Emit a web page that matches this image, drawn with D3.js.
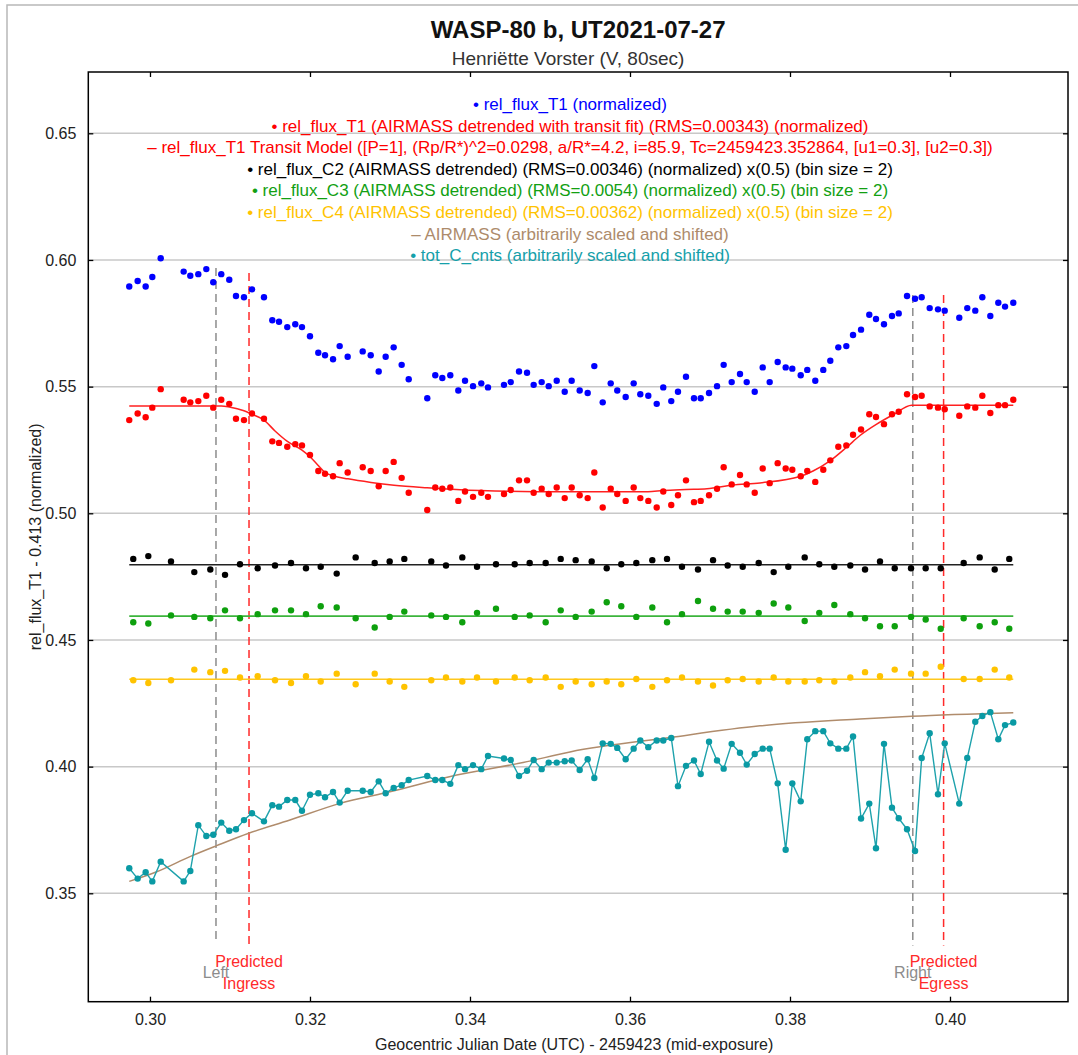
<!DOCTYPE html>
<html>
<head>
<meta charset="utf-8">
<script src="https://cdn.jsdelivr.net/npm/d3@7"></script>
<style>
  body { margin: 0; background: #fff; }
  svg { font-family: "Liberation Sans", Arial, sans-serif; }
</style>
</head>
<body>
<svg id="chart" width="1078" height="1055"></svg>
<script>
// ---- data ----
var timeX = [
  0.29741, 0.29846, 0.29946, 0.30029, 0.30134, 0.30421, 0.30504, 0.30604, 0.30704, 0.30791,
  0.30891, 0.30991, 0.31075, 0.31175, 0.31275, 0.31425, 0.31529, 0.31613, 0.31716, 0.31816,
  0.31900, 0.32000, 0.32104, 0.32188, 0.32288, 0.32371, 0.32471, 0.32659, 0.32759, 0.32859,
  0.32946, 0.33046, 0.33146, 0.33234, 0.33466, 0.33566, 0.33654, 0.33754, 0.33854, 0.33938,
  0.34038, 0.34141, 0.34225, 0.34425, 0.34509, 0.34613, 0.34713, 0.34796, 0.34896, 0.34984,
  0.35084, 0.35184, 0.35271, 0.35371, 0.35471, 0.35554, 0.35659, 0.35759, 0.35841, 0.35946,
  0.36046, 0.36129, 0.36229, 0.36334, 0.36416, 0.36516, 0.36600, 0.36700, 0.36800, 0.36884,
  0.36988, 0.37088, 0.37171, 0.37271, 0.37375, 0.37459, 0.37559, 0.37659, 0.37746, 0.37846,
  0.37946, 0.38029, 0.38134, 0.38216, 0.38316, 0.38416, 0.38504, 0.38604, 0.38704, 0.38788,
  0.38888, 0.38991, 0.39075, 0.39175, 0.39275, 0.39359, 0.39463, 0.39563, 0.39646, 0.39746,
  0.39850, 0.39934, 0.40116, 0.40216, 0.40316, 0.40404, 0.40504, 0.40604, 0.40688, 0.40791
];
var relFluxT1 = [
  0.5895, 0.5917, 0.5895, 0.5933, 0.6007, 0.5954, 0.5938, 0.5944, 0.5964, 0.5912,
  0.5944, 0.5922, 0.5858, 0.5853, 0.5884, 0.5853, 0.5762, 0.5756, 0.5735, 0.5746,
  0.5735, 0.5699, 0.5634, 0.5624, 0.5608, 0.5660, 0.5618, 0.5639, 0.5624, 0.5560,
  0.5618, 0.5655, 0.5586, 0.5529, 0.5454, 0.5545, 0.5534, 0.5545, 0.5485, 0.5523,
  0.5502, 0.5513, 0.5497, 0.5507, 0.5518, 0.5560, 0.5555, 0.5507, 0.5518, 0.5502,
  0.5523, 0.5480, 0.5523, 0.5485, 0.5475, 0.5581, 0.5438, 0.5513, 0.5485, 0.5459,
  0.5513, 0.5470, 0.5464, 0.5432, 0.5497, 0.5443, 0.5480, 0.5539, 0.5454, 0.5454,
  0.5475, 0.5502, 0.5586, 0.5518, 0.5550, 0.5518, 0.5480, 0.5576, 0.5518, 0.5597,
  0.5576, 0.5571, 0.5545, 0.5566, 0.5523, 0.5566, 0.5602, 0.5655, 0.5660, 0.5704,
  0.5725, 0.5784, 0.5767, 0.5746, 0.5779, 0.5789, 0.5858, 0.5847, 0.5853, 0.5810,
  0.5805, 0.5800, 0.5772, 0.5810, 0.5800, 0.5853, 0.5779, 0.5831, 0.5816, 0.5831
];
var relFluxT1Detr = [
  0.5368, 0.5394, 0.5379, 0.5417, 0.5490, 0.5448, 0.5438, 0.5443, 0.5464, 0.5417,
  0.5448, 0.5432, 0.5373, 0.5368, 0.5394, 0.5373, 0.5284, 0.5278, 0.5263, 0.5273,
  0.5268, 0.5230, 0.5167, 0.5156, 0.5146, 0.5198, 0.5161, 0.5182, 0.5167, 0.5107,
  0.5167, 0.5203, 0.5140, 0.5081, 0.5013, 0.5102, 0.5097, 0.5102, 0.5049, 0.5086,
  0.5065, 0.5081, 0.5065, 0.5076, 0.5092, 0.5130, 0.5130, 0.5081, 0.5097, 0.5076,
  0.5102, 0.5060, 0.5102, 0.5071, 0.5060, 0.5161, 0.5023, 0.5097, 0.5076, 0.5049,
  0.5102, 0.5060, 0.5049, 0.5023, 0.5086, 0.5033, 0.5071, 0.5130, 0.5044, 0.5049,
  0.5071, 0.5097, 0.5182, 0.5114, 0.5151, 0.5114, 0.5081, 0.5177, 0.5119, 0.5198,
  0.5177, 0.5172, 0.5146, 0.5167, 0.5124, 0.5172, 0.5209, 0.5263, 0.5268, 0.5310,
  0.5331, 0.5391, 0.5380, 0.5352, 0.5391, 0.5401, 0.5470, 0.5459, 0.5464, 0.5422,
  0.5417, 0.5411, 0.5385, 0.5422, 0.5417, 0.5464, 0.5396, 0.5427, 0.5427, 0.5448
];
var totCcnts = [
  0.3599, 0.3558, 0.3583, 0.3547, 0.3625, 0.3547, 0.3588, 0.3769, 0.3726, 0.3731,
  0.3779, 0.3747, 0.3753, 0.3789, 0.3816, 0.3784, 0.3848, 0.3842, 0.3868, 0.3868,
  0.3826, 0.3889, 0.3895, 0.3879, 0.3900, 0.3858, 0.3905, 0.3905, 0.3900, 0.3942,
  0.3895, 0.3916, 0.3927, 0.3947, 0.3963, 0.3947, 0.3947, 0.3932, 0.4006, 0.3990,
  0.4006, 0.3990, 0.4042, 0.4032, 0.4026, 0.3963, 0.3984, 0.4026, 0.3990, 0.4016,
  0.4016, 0.4021, 0.4024, 0.3987, 0.4029, 0.3955, 0.4092, 0.4090, 0.4074, 0.4029,
  0.4071, 0.4103, 0.4077, 0.4103, 0.4103, 0.4113, 0.3923, 0.4003, 0.4024, 0.3971,
  0.4098, 0.4024, 0.3992, 0.4090, 0.4055, 0.4008, 0.4050, 0.4071, 0.4071, 0.3934,
  0.3672, 0.3934, 0.3863, 0.4108, 0.4140, 0.4140, 0.4092, 0.4071, 0.4071, 0.4119,
  0.3795, 0.3854, 0.3678, 0.4090, 0.3838, 0.3796, 0.3753, 0.3667, 0.4034, 0.4132,
  0.3891, 0.4092, 0.3854, 0.4034, 0.4177, 0.4200, 0.4215, 0.4108, 0.4164, 0.4174
];

var modelX = [0.29741, 0.30891, 0.30991, 0.31175, 0.31275, 0.31425, 0.31563, 0.31713, 0.31900, 0.32000,
  0.32100, 0.32188, 0.32288, 0.32475, 0.32763, 0.33050, 0.33463, 0.34125, 0.35188, 0.36225,
  0.36413, 0.36700, 0.36963, 0.37275, 0.37625, 0.38125, 0.38288, 0.38500, 0.38709, 0.38875,
  0.39084, 0.39288, 0.39521, 0.40791];
var modelY = [0.5424, 0.5424, 0.5420, 0.5405, 0.5391, 0.5368, 0.5325, 0.5285, 0.5249, 0.5223,
  0.5190, 0.5161, 0.5148, 0.5136, 0.5122, 0.5111, 0.5101, 0.5090, 0.5085, 0.5085,
  0.5090, 0.5094, 0.5097, 0.5111, 0.5120, 0.5145, 0.5167, 0.5207, 0.5261, 0.5307,
  0.5352, 0.5389, 0.5427, 0.5427];

// binned comparison stars (bin size = 2)
var binX = [
  0.29791, 0.29979, 0.30263, 0.30554, 0.30754, 0.30938, 0.31125, 0.31346, 0.31563, 0.31763,
  0.31950, 0.32134, 0.32334, 0.32571, 0.32809, 0.32996, 0.33179, 0.33516, 0.33700, 0.33904,
  0.34088, 0.34325, 0.34559, 0.34746, 0.34946, 0.35134, 0.35321, 0.35521, 0.35709, 0.35891,
  0.36079, 0.36279, 0.36463, 0.36650, 0.36850, 0.37038, 0.37221, 0.37409, 0.37609, 0.37796,
  0.37979, 0.38184, 0.38366, 0.38554, 0.38754, 0.38938, 0.39125, 0.39309, 0.39513, 0.39696,
  0.39884, 0.40171, 0.40371, 0.40559, 0.40741
];
var relFluxC2 = [
  0.4820, 0.4831, 0.4810, 0.4768, 0.4778, 0.4757, 0.4799, 0.4783, 0.4794, 0.4804,
  0.4783, 0.4789, 0.4762, 0.4826, 0.4804, 0.4810, 0.4820, 0.4810, 0.4794, 0.4826,
  0.4789, 0.4799, 0.4799, 0.4804, 0.4804, 0.4820, 0.4815, 0.4810, 0.4783, 0.4799,
  0.4804, 0.4815, 0.4820, 0.4789, 0.4778, 0.4815, 0.4794, 0.4789, 0.4804, 0.4768,
  0.4789, 0.4826, 0.4799, 0.4789, 0.4794, 0.4778, 0.4810, 0.4783, 0.4783, 0.4783,
  0.4783, 0.4804, 0.4826, 0.4778, 0.4820
];
var relFluxC3 = [
  0.4570, 0.4565, 0.4597, 0.4591, 0.4586, 0.4617, 0.4586, 0.4602, 0.4617, 0.4617,
  0.4602, 0.4633, 0.4628, 0.4586, 0.4549, 0.4591, 0.4612, 0.4597, 0.4591, 0.4570,
  0.4607, 0.4623, 0.4591, 0.4597, 0.4570, 0.4617, 0.4591, 0.4612, 0.4649, 0.4633,
  0.4591, 0.4628, 0.4570, 0.4602, 0.4654, 0.4623, 0.4612, 0.4612, 0.4607, 0.4644,
  0.4628, 0.4575, 0.4607, 0.4638, 0.4602, 0.4586, 0.4554, 0.4554, 0.4591, 0.4581,
  0.4544, 0.4586, 0.4554, 0.4570, 0.4544
];
var relFluxC4 = [
  0.4341, 0.4330, 0.4341, 0.4383, 0.4373, 0.4378, 0.4352, 0.4357, 0.4341, 0.4330,
  0.4357, 0.4336, 0.4367, 0.4325, 0.4367, 0.4336, 0.4315, 0.4341, 0.4352, 0.4336,
  0.4352, 0.4336, 0.4352, 0.4341, 0.4352, 0.4315, 0.4336, 0.4325, 0.4336, 0.4325,
  0.4346, 0.4315, 0.4341, 0.4352, 0.4336, 0.4320, 0.4341, 0.4346, 0.4336, 0.4352,
  0.4336, 0.4336, 0.4341, 0.4336, 0.4352, 0.4373, 0.4357, 0.4383, 0.4367, 0.4367,
  0.4394, 0.4346, 0.4346, 0.4383, 0.4352
];
var compLevels = [0.4797, 0.4594, 0.4345];   // C2, C3, C4 detrended fit lines

var airmassX = [0.29741, 0.30084, 0.30500, 0.30834, 0.31234, 0.31750, 0.32375, 0.33000,
  0.33834, 0.34663, 0.35250, 0.36500, 0.37625, 0.38875, 0.39521, 0.40791];
var airmassY = [0.3547, 0.3585, 0.3645, 0.3688, 0.3737, 0.3789, 0.3855, 0.3901,
  0.3967, 0.4016, 0.4058, 0.4115, 0.4161, 0.4188, 0.4199, 0.4213];

var xTicks = [0.30, 0.32, 0.34, 0.36, 0.38, 0.40];
var yTicks = [0.35, 0.40, 0.45, 0.50, 0.55, 0.60, 0.65];

// ingress / egress markers
var markerLines = [
  {x: 0.30825, y0: 0.5968, y1: 0.3306, label: ["Left"], color: "#8c8c8c"},
  {x: 0.31238, y0: 0.5949, y1: 0.3282, label: ["Predicted", "Ingress"], color: "#ff2a2a"},
  {x: 0.39535, y0: 0.5862, y1: 0.3294, label: ["Right"], color: "#8c8c8c"},
  {x: 0.39920, y0: 0.5862, y1: 0.3294, label: ["Predicted", "Egress"], color: "#ff2a2a"}
];

var legendItems = [
  {sym: "•", text: "rel_flux_T1 (normalized)", color: "#0000ff"},
  {sym: "•", text: "rel_flux_T1 (AIRMASS detrended with transit fit) (RMS=0.00343) (normalized)", color: "#ff0000"},
  {sym: "–", text: "rel_flux_T1 Transit Model ([P=1], (Rp/R*)^2=0.0298, a/R*=4.2, i=85.9, Tc=2459423.352864, [u1=0.3], [u2=0.3])", color: "#ff0000"},
  {sym: "•", text: "rel_flux_C2 (AIRMASS detrended) (RMS=0.00346) (normalized) x(0.5) (bin size = 2)", color: "#000000"},
  {sym: "•", text: "rel_flux_C3 (AIRMASS detrended) (RMS=0.0054) (normalized) x(0.5) (bin size = 2)", color: "#12a012"},
  {sym: "•", text: "rel_flux_C4 (AIRMASS detrended) (RMS=0.00362) (normalized) x(0.5) (bin size = 2)", color: "#ffc300"},
  {sym: "–", text: "AIRMASS (arbitrarily scaled and shifted)", color: "#ad8b6b"},
  {sym: "•", text: "tot_C_cnts (arbitrarily scaled and shifted)", color: "#15a0aa"}
];

// ---- drawing ----
var svg = d3.select("#chart");
var plotL = 88.3, plotR = 1068, plotT = 72, plotB = 1001.7;

var x = d3.scaleLinear().domain([0.29229, 0.41475]).range([plotL, plotR]);
var y = d3.scaleLinear().domain([0.30721, 0.6742]).range([plotB, plotT]);

// window edge
svg.append("path").attr("d", "M7,1055 V5 H1078").attr("fill", "none").attr("stroke", "#b8b8b8").attr("stroke-width", 1.5);

// grid
svg.append("g").selectAll("line").data(yTicks).enter().append("line")
  .attr("x1", plotL).attr("x2", plotR)
  .attr("y1", function(d){ return y(d); }).attr("y2", function(d){ return y(d); })
  .attr("stroke", "#c8c8c8").attr("stroke-width", 1.5);

function pts(xs, ys) {
  return xs.map(function(d, i){ return [d, ys[i]]; });
}
var line = d3.line().x(function(d){ return x(d[0]); }).y(function(d){ return y(d[1]); });
var smooth = d3.line().curve(d3.curveMonotoneX).x(function(d){ return x(d[0]); }).y(function(d){ return y(d[1]); });

function dots(data, color, r) {
  svg.append("g").selectAll("circle").data(data).enter().append("circle")
    .attr("cx", function(d){ return x(d[0]); })
    .attr("cy", function(d){ return y(d[1]); })
    .attr("r", r).attr("fill", color);
}

// vertical marker lines
markerLines.forEach(function(m){
  svg.append("line")
    .attr("x1", x(m.x)).attr("x2", x(m.x)).attr("y1", y(m.y0)).attr("y2", y(m.y1))
    .attr("stroke", m.color).attr("stroke-width", 1.5).attr("stroke-dasharray", "8,5");
});

// airmass
svg.append("path").datum(pts(airmassX, airmassY)).attr("d", smooth)
  .attr("fill", "none").attr("stroke", "#b08c6c").attr("stroke-width", 1.5);

// tot_C_cnts
svg.append("path").datum(pts(timeX, totCcnts)).attr("d", line)
  .attr("fill", "none").attr("stroke", "#1ea2ac").attr("stroke-width", 1.4);
dots(pts(timeX, totCcnts), "#0a9aa4", 3.2);

// comparison stars
var xEnds = [timeX[0], timeX[timeX.length - 1]];
var compColors = ["#222222", "#3cb43c", "#ffc81e"];
compLevels.forEach(function(lv, i){
  svg.append("line").attr("x1", x(xEnds[0])).attr("x2", x(xEnds[1]))
    .attr("y1", y(lv)).attr("y2", y(lv))
    .attr("stroke", compColors[i]).attr("stroke-width", 1.6);
});
dots(pts(binX, relFluxC2), "#000000", 3.2);
dots(pts(binX, relFluxC3), "#0ea00e", 3.2);
dots(pts(binX, relFluxC4), "#ffc300", 3.2);

// target
dots(pts(timeX, relFluxT1), "#0000ff", 3.2);
svg.append("path").datum(pts(modelX, modelY)).attr("d", smooth)
  .attr("fill", "none").attr("stroke", "#ff2020").attr("stroke-width", 1.5);
dots(pts(timeX, relFluxT1Detr), "#ff0000", 3.2);

// marker labels
markerLines.forEach(function(m){
  var t = svg.append("text").attr("text-anchor", "middle").attr("fill", m.color)
    .attr("font-size", 16);
  if (m.label.length == 1) {
    t.append("tspan").attr("x", x(m.x)).attr("y", 978).text(m.label[0]);
  } else {
    t.append("tspan").attr("x", x(m.x)).attr("y", 967).text(m.label[0]);
    t.append("tspan").attr("x", x(m.x)).attr("y", 989).text(m.label[1]);
  }
});

// frame + axes
svg.append("rect").attr("x", plotL).attr("y", plotT).attr("width", plotR - plotL).attr("height", plotB - plotT)
  .attr("fill", "none").attr("stroke", "#000").attr("stroke-width", 1.5);

var fmt = d3.format(".2f");
svg.append("g").attr("transform", "translate(0," + plotB + ")")
  .call(d3.axisBottom(x).tickValues(xTicks).tickSize(-5).tickPadding(12).tickFormat(fmt));
svg.append("g").attr("transform", "translate(0," + plotT + ")")
  .call(d3.axisTop(x).tickValues(xTicks).tickSize(-5).tickFormat(""));
svg.append("g").attr("transform", "translate(" + plotL + ",0)")
  .call(d3.axisLeft(y).tickValues(yTicks).tickSize(-5).tickPadding(12).tickFormat(fmt));
svg.append("g").attr("transform", "translate(" + plotR + ",0)")
  .call(d3.axisRight(y).tickValues(yTicks).tickSize(-5).tickFormat(""));
svg.selectAll(".domain").remove();
svg.selectAll(".tick line").attr("stroke", "#000").attr("stroke-width", 1.3);
svg.selectAll(".tick text").attr("font-size", 16).attr("fill", "#222")
  .attr("font-family", "Liberation Sans, Arial, sans-serif");

// legend
var legendX = 570, legendY0 = 104, legendStep = 21.6;
legendItems.forEach(function(it, i){
  svg.append("text").attr("x", legendX).attr("y", legendY0 + i * legendStep)
    .attr("dy", "0.35em").attr("text-anchor", "middle").attr("font-size", 17)
    .attr("fill", it.color).text(it.sym + " " + it.text);
});

// titles
var cx = (plotL + plotR) / 2;
svg.append("text").attr("x", cx).attr("y", 38).attr("text-anchor", "middle")
  .attr("font-size", 24).attr("font-weight", "bold").attr("fill", "#111")
  .text("WASP-80 b, UT2021-07-27");
svg.append("text").attr("x", 568).attr("y", 65).attr("text-anchor", "middle")
  .attr("font-size", 19).attr("fill", "#333")
  .text("Henriëtte Vorster (V, 80sec)");
svg.append("text").attr("x", cx - 4).attr("y", 1050).attr("text-anchor", "middle")
  .attr("font-size", 16).attr("fill", "#222")
  .text("Geocentric Julian Date (UTC) - 2459423 (mid-exposure)");
svg.append("text").attr("transform", "translate(41," + ((plotT + plotB) / 2) + ") rotate(-90)")
  .attr("text-anchor", "middle").attr("font-size", 16).attr("fill", "#222")
  .text("rel_flux_T1 - 0.413 (normalized)");
</script>
</body>
</html>
